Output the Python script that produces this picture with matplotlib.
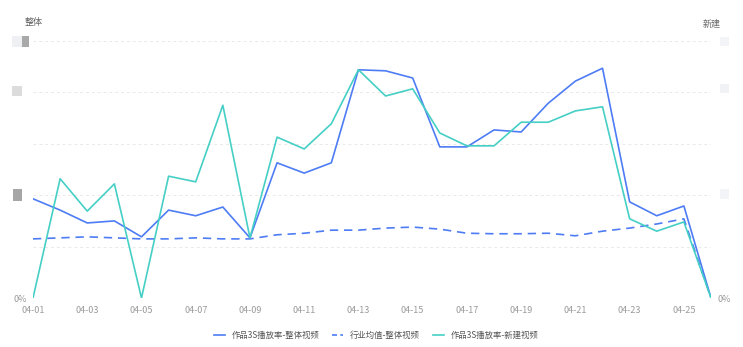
import matplotlib
matplotlib.use("Agg")
import matplotlib.pyplot as plt
from matplotlib.lines import Line2D
from matplotlib.patches import Rectangle

plt.rcParams['font.family'] = ['Noto Sans CJK SC', 'DejaVu Sans']

dates = ["04-%02d" % d for d in range(1, 27)]
work_all = [19.3, 17.1, 14.6, 15.0, 11.9, 17.1, 16.0, 17.7, 11.7, 26.3, 24.3, 26.3, 44.4,
            44.2, 42.8, 29.4, 29.4, 32.7, 32.3, 37.9, 42.2, 44.7, 18.7, 16.0, 17.9, 0.0]
industry_avg = [11.5, 11.7, 11.9, 11.7, 11.5, 11.5, 11.7, 11.5, 11.5, 12.3, 12.6, 13.2, 13.2,
                13.6, 13.8, 13.4, 12.6, 12.5, 12.5, 12.6, 12.1, 13.0, 13.6, 14.4, 15.4, 0.0]
work_new = [0.0, 23.2, 16.9, 22.2, 0.0, 23.7, 22.6, 37.5, 11.7, 31.3, 29.0, 33.9, 44.4,
            39.3, 40.7, 32.1, 29.6, 29.6, 34.2, 34.2, 36.4, 37.2, 15.4, 13.0, 14.8, 0.0]
series_names = ["作品3S播放率-整体视频", "行业均值-整体视频", "作品3S播放率-新建视频"]

BLUE = "#4d7cf4"
TEAL = "#45cfc5"

W, H = 743, 347
fig = plt.figure(figsize=(W / 100, H / 100), dpi=100)
fig.patch.set_facecolor("white")
ax = fig.add_axes([33 / W, 1 - 298 / H, (711 - 33) / W, (298 - 41) / H])
ax.set_facecolor("white")

x = list(range(len(dates)))
ax.plot(x, work_all, color=BLUE, lw=1.2, zorder=3)
ax.plot(x, industry_avg, color=BLUE, lw=1.2, ls=(0, (5, 3.5)), zorder=3)
ax.plot(x, work_new, color=TEAL, lw=1.2, zorder=3)

ax.set_xlim(0, 25)
ax.set_ylim(0, 50)
ax.set_yticks([0, 10, 20, 30, 40, 50])
ax.set_yticklabels(["0%", "", "", "", "", ""])
ax.grid(axis="y", color="#e9e9e9", lw=0.7, ls=(0, (3, 3)))
ax.set_axisbelow(True)
for s in ax.spines.values():
    s.set_visible(False)
ax.set_xticks(x[::2])
ax.set_xticklabels(dates[::2])
ax.tick_params(axis="both", length=0, labelsize=6.5, labelcolor="#9a9a9a")
ax.tick_params(axis="x", pad=6)
ax.tick_params(axis="y", pad=4)

ax2 = ax.twinx()
ax2.set_ylim(0, 50)
ax2.set_yticks([0])
ax2.set_yticklabels(["0%"])
ax2.tick_params(axis="y", length=0, labelsize=6.5, labelcolor="#9a9a9a", pad=5)
for s in ax2.spines.values():
    s.set_visible(False)

fig.text(25 / W, 1 - 23 / H, "整体", fontsize=6.5, color="#666666", va="center")
fig.text(703 / W, 1 - 24 / H, "新建", fontsize=6.5, color="#666666", va="center")

# masked tick-label placeholders
boxes = [(12, 36, 10, 11, "#eef0f4"), (22, 36, 7, 11, "#a9a9a9"),
         (12, 86, 10, 10, "#dcdcdc"), (13, 189, 9, 12, "#a6a6a6"),
         (720, 37, 9, 9, "#f2f4f8"), (720, 84, 9, 9, "#f0f2f6"), (720, 189, 9, 10, "#f2f4f8")]
for bx, by, bw, bh, c in boxes:
    fig.patches.append(Rectangle((bx / W, 1 - (by + bh) / H), bw / W, bh / H,
                                 transform=fig.transFigure, color=c, lw=0))

handles = [Line2D([], [], color=BLUE, lw=1.2),
           Line2D([], [], color=BLUE, lw=1.2, ls=(0, (3, 2))),
           Line2D([], [], color=TEAL, lw=1.2)]
fig.legend(handles, series_names, loc="center", bbox_to_anchor=(376 / W, 1 - 335 / H),
           ncol=3, frameon=False, fontsize=6, handlelength=1.3, handletextpad=0.8,
           columnspacing=1.6, labelcolor="#555555")

fig.savefig("out.png", dpi=100, facecolor="white")
